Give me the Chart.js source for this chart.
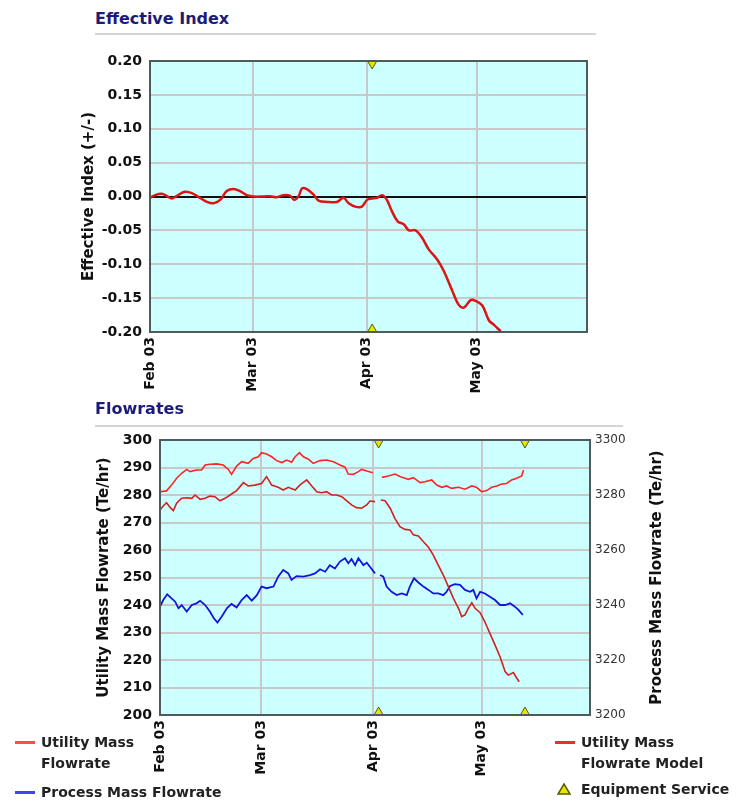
<!DOCTYPE html>
<html>
<head>
<meta charset="utf-8">
<title>Effective Index / Flowrates</title>
<script src="https://cdn.jsdelivr.net/npm/chart.js@4.4.0/dist/chart.umd.min.js"></script>
<style>
  body { margin: 0; background: #fff; font-family: "DejaVu Sans", Verdana, sans-serif; }
  #page { position: relative; width: 739px; height: 802px; overflow: hidden; }
  canvas { position: absolute; left: 0; }
  .title { position: absolute; left: 95px; font-size: 16px; font-weight: bold; color: #1c1c78; line-height: 20px; }
  .rule { position: absolute; left: 95px; height: 2px; background: #d4d4d4; }
  .leg { position: absolute; display: flex; align-items: flex-start; font-size: 14px; font-weight: bold; color: #222; line-height: 21px; }
  .sw { display: inline-block; width: 20px; height: 3px; margin-top: 9px; margin-right: 6px; }
  .tri { width: 14px; margin-right: 10px; margin-top: 4px; }
</style>
</head>
<body>
<div id="page">
  <div class="title" style="top:9px">Effective Index</div>
  <div class="rule" style="top:33px;width:501px"></div>
  <canvas id="effChart" width="739" height="360" style="top:40px"></canvas>

  <div class="title" style="top:399px">Flowrates</div>
  <div class="rule" style="top:425px;width:528px"></div>
  <canvas id="flowChart" width="739" height="402" style="top:400px"></canvas>

  <div class="leg" style="left:15px;top:732px"><span class="sw" style="background:#ff4d4d"></span><span>Utility Mass<br>Flowrate</span></div>
  <div class="leg" style="left:15px;top:782px"><span class="sw" style="background:#4444ee"></span><span>Process Mass Flowrate</span></div>
  <div class="leg" style="left:555px;top:732px"><span class="sw" style="background:#dd3333"></span><span>Utility Mass<br>Flowrate Model</span></div>
  <div class="leg" style="left:557px;top:779px">
    <svg class="tri" width="14" height="12" viewBox="0 0 14 12"><polygon points="7,1 13,11 1,11" fill="#e6e600" stroke="#5a5a00" stroke-width="1.5"/></svg>
    <span>Equipment Service</span>
  </div>
</div>

<script>
// x values are days counted from 1 Feb 2003
const monthDays = [0, 28, 59, 89];
const monthLabels = ["Feb 03", "Mar 03", "Apr 03", "May 03"];
const serviceDays = [60.5, 101];

// Effective index
const effDays = [0, 1.4, 3.2, 4.5, 5.9, 7.3, 9.5, 11.4, 13.6, 15.5, 17.3, 19.1, 20.9, 22.7, 24.5, 26.4, 28.2, 30.9, 32.7, 34.5,
  36.4, 38.2, 39.3, 40.5, 41.4, 42.7, 44.5, 45.9, 48.2, 50.9, 52.7, 54.1, 55.9, 57.7, 59.1, 60.5, 61.8, 63.2, 64.5, 65.9,
  67.5, 69.1, 70.5, 72.3, 74.1, 75.9, 78.2, 80, 82.3, 84.1, 85.5, 87.3, 88.6, 90.5, 92.3, 93.6, 95.5];
const effIndex = [-0.002, 0.002, 0.004, 0.001, -0.003, 0.001, 0.007, 0.005, -0.002, -0.008, -0.010, -0.005, 0.008, 0.011, 0.008, 0.002, 0, 0, 0.0005, -0.001,
  0.002, 0.001, -0.005, 0.001, 0.012, 0.011, 0.003, -0.006, -0.008, -0.008, -0.002, -0.010, -0.015, -0.015, -0.005, -0.003, -0.002, 0.002, -0.005, -0.022,
  -0.037, -0.041, -0.050, -0.050, -0.061, -0.078, -0.093, -0.110, -0.139, -0.160, -0.164, -0.153, -0.154, -0.161, -0.183, -0.189, -0.199];

// Utility mass flowrate (Te/hr), null = no reading
const utilityDays = [0, 1.8, 3.2, 4.6, 6.0, 7.4, 8.3, 10.1, 11.5, 12.5, 13.8, 15.7, 17.5, 18.9, 19.8, 21.2, 22.6, 24.4, 25.8, 27.2,
  28.1, 29.5, 30.9, 32.3, 33.7, 35.1, 36.4, 37.4, 38.6, 39.7, 41.1, 42.4, 44.3, 46.1, 48.0, 49.8, 51.2, 52.1, 53.5, 54.9,
  55.8, 57.2, 58.9, 60, 61.4, 63.2, 65.0, 66.4, 67.8, 68.7, 70.1, 72.0, 73.3, 75.2, 76.6, 78.0, 79.3, 80.7, 82.6, 84.4,
  86.3, 87.6, 89.0, 90.4, 91.8, 93.2, 94.6, 95.9, 97.3, 98.7, 100.1, 100.6];
const utilityFlow = [281.2, 281.5, 283.6, 286.1, 287.9, 289.3, 288.5, 289.1, 289.1, 290.9, 291.2, 291.3, 290.9, 289.3, 287.5, 290.5, 292.1, 291.5, 293.3, 293.9,
  295.4, 294.9, 293.9, 292.5, 291.8, 292.7, 291.9, 293.9, 295.4, 293.9, 293.0, 291.5, 292.5, 292.7, 292.1, 290.9, 290.1, 287.6, 287.5, 288.5,
  289.3, 288.7, 288.1, null, 286.4, 286.9, 287.6, 286.7, 286.1, 285.7, 286.3, 284.5, 284.8, 285.5, 283.6, 282.8, 283.3, 282.4, 282.8, 282.1,
  283.3, 282.8, 281.2, 281.6, 282.8, 283.3, 284.0, 284.2, 285.5, 286.1, 286.9, 289.1];

// Utility mass flowrate model (Te/hr)
const modelDays = [0, 0.9, 1.8, 2.8, 3.7, 4.6, 6.0, 7.4, 8.8, 9.7, 11.1, 12.5, 13.8, 15.2, 16.6, 18.0, 19.4, 21.2, 23.1, 24.4,
  26.3, 28.1, 29.5, 30.9, 32.7, 34.1, 35.5, 37.4, 38.7, 40.6, 42.0, 43.4, 44.7, 46.1, 47.5, 48.9, 50.3, 51.7, 53.0, 54.4,
  55.8, 57.2, 58.1, 59.5, 60.3, 61.1, 62.3, 63.7, 65.0, 66.4, 67.8, 69.2, 70.1, 71.5, 72.9, 74.3, 75.6, 77.0, 78.4, 79.8,
  81.2, 82.6, 83.5, 84.4, 85.3, 86.3, 87.2, 88.6, 89.9, 91.3, 92.7, 94.1, 95.5, 96.4, 97.8, 98.5, 99.4];
const modelFlow = [274.5, 276, 277.2, 275.5, 274.3, 277.0, 278.8, 279.0, 278.8, 280.0, 278.4, 278.8, 279.6, 279.4, 277.9, 278.8, 280.0, 281.6, 284.5, 283.3,
  283.6, 284.2, 286.7, 283.6, 282.8, 281.8, 282.8, 281.8, 283.6, 285.5, 283.3, 281.2, 280.8, 281.2, 280, 280, 279.4, 277.9, 276.4, 275.4,
  275.2, 276.4, 277.8, 277.6, null, 278.2, 277.9, 275.2, 271.5, 268.5, 267.5, 267.3, 265.5, 265.1, 263.0, 261.0, 258.2, 254.5, 250.9, 246.7,
  242.4, 238.8, 235.8, 236.4, 238.8, 240.8, 238.8, 237.2, 233.9, 229.7, 225.5, 221.2, 215.8, 214.5, 215.4, 213.9, 212.1];

// Process mass flowrate (Te/hr), right axis
const processDays = [0, 0.9, 2.0, 3.2, 4.2, 5.1, 6.0, 7.4, 8.8, 10.1, 11.1, 12.5, 13.8, 14.9, 15.9, 17.1, 18.5, 19.8, 21.2, 22.6,
  24.0, 25.4, 26.8, 28.1, 29.5, 31.4, 32.7, 34.1, 35.5, 36.4, 37.8, 39.7, 41.5, 42.9, 44.3, 45.7, 47.0, 48.4, 49.8, 51.2,
  52.1, 53.0, 54.0, 54.9, 56.3, 57.2, 58.1, 59.5, 60.2, 60.9, 61.8, 62.7, 64.1, 65.5, 66.9, 68.3, 69.2, 70.3, 71.5,
  72.9, 74.3, 75.6, 77.0, 78.4, 79.3, 80.3, 81.6, 83.0, 84.4, 85.8, 86.7, 87.6, 88.6, 89.9, 91.3, 92.7, 94.1, 95.5, 96.9,
  98.2, 99.2, 100.4];
const processFlow = [3239.4, 3241.8, 3243.9, 3242.4, 3241.2, 3238.8, 3240, 3237.6, 3240, 3240.6, 3241.5, 3240, 3237.6, 3235.2, 3233.6, 3235.8, 3238.8, 3240.4, 3239.1, 3241.8,
  3243.6, 3241.6, 3243.6, 3246.7, 3246.1, 3246.7, 3250.3, 3252.7, 3251.5, 3249.1, 3250.5, 3250.3, 3250.9, 3251.5, 3253.0, 3252.1, 3254.5, 3253.3, 3255.8, 3257,
  3255.2, 3256.7, 3254.5, 3257, 3254.5, 3255.4, 3253.9, 3251.5, null, 3250.9, 3250.3, 3246.7, 3244.8, 3243.6, 3244.2, 3243.6, 3246.9, 3249.7, 3248.2,
  3246.7, 3245.5, 3244.2, 3244.2, 3243.6, 3244.8, 3246.9, 3247.6, 3247.3, 3245.5, 3244.8, 3245.5, 3242.4, 3244.8, 3244.2, 3243, 3241.8, 3240, 3240, 3240.6,
  3239.4, 3238.2, 3236.4];

Chart.defaults.font.family = '"DejaVu Sans", Verdana, sans-serif';
Chart.defaults.color = "#111";

const toPoints = (xs, ys) => xs.map((x, i) => ({ x: x, y: ys[i] }));

// cyan plot background and dark frame
const plotFrame = {
  id: "plotFrame",
  beforeDraw(chart) {
    const { ctx, chartArea: a } = chart;
    ctx.save();
    ctx.fillStyle = "#ccffff";
    ctx.fillRect(a.left, a.top, a.right - a.left, a.bottom - a.top);
    ctx.restore();
  },
  afterDatasetsDraw(chart) {
    const { ctx, chartArea: a } = chart;
    ctx.save();
    ctx.strokeStyle = "#4d5b5b";
    ctx.lineWidth = 2;
    ctx.strokeRect(a.left, a.top, a.right - a.left, a.bottom - a.top);
    ctx.restore();
  },
};

const dateAxis = (height) => ({
  type: "linear",
  min: 0,
  max: 119,
  afterBuildTicks: (scale) => {
    scale.ticks = monthDays.map((v) => ({ value: v }));
  },
  afterFit: (scale) => {
    scale.height = height;
  },
  ticks: {
    autoSkip: false,
    minRotation: 90,
    maxRotation: 90,
    padding: 5,
    font: { size: 14, weight: "bold" },
    callback: (v) => monthLabels[monthDays.indexOf(v)],
  },
  grid: { color: "#c8c8c8", lineWidth: 2, drawTicks: false },
  border: { display: false },
});

const markerSet = (days, yVal, rotation, axis) => ({
  data: days.map((d) => ({ x: d, y: yVal })),
  yAxisID: axis,
  showLine: false,
  pointStyle: "triangle",
  pointRadius: 8,
  pointRotation: rotation,
  pointBackgroundColor: "#e6e600",
  pointBorderColor: "#5a5a00",
  pointBorderWidth: 1,
  clip: 0,
});

// Effective index chart
const effService = serviceDays.filter((d) => d <= effDays[effDays.length - 1]);
new Chart(document.getElementById("effChart"), {
  type: "line",
  data: {
    datasets: [
      markerSet(effService, 0.2, 180, "y"),
      markerSet(effService, -0.2, 0, "y"),
      {
        data: toPoints(effDays, effIndex),
        borderColor: "#dd1414",
        borderWidth: 2.5,
        pointRadius: 0,
        tension: 0.35,
        fill: false,
      },
    ],
  },
  options: {
    responsive: false,
    animation: false,
    layout: { padding: { left: 76, right: 152, top: 21, bottom: 0 } },
    plugins: { legend: { display: false }, tooltip: { enabled: false } },
    scales: {
      x: dateAxis(68),
      y: {
        min: -0.2,
        max: 0.2,
        afterFit: (scale) => {
          scale.width = 74;
        },
        ticks: {
          stepSize: 0.05,
          padding: 8,
          font: { size: 14, weight: "bold" },
          callback: (v) => v.toFixed(2),
        },
        grid: {
          drawTicks: false,
          lineWidth: 2,
          color: (c) => (Math.abs(c.tick.value) < 1e-9 ? "#111" : "#c8c8c8"),
        },
        border: { display: false },
        title: {
          display: true,
          text: "Effective Index (+/-)",
          font: { size: 15, weight: "bold" },
          color: "#111",
        },
      },
    },
  },
  plugins: [plotFrame],
});

// right hand axis title reads bottom to top like the left one
const rightTitle = {
  id: "rightTitle",
  afterDraw(chart) {
    const { ctx, chartArea: a } = chart;
    ctx.save();
    ctx.translate(657, (a.top + a.bottom) / 2);
    ctx.rotate(-Math.PI / 2);
    ctx.font = 'bold 15px "DejaVu Sans", Verdana, sans-serif';
    ctx.fillStyle = "#111";
    ctx.textAlign = "center";
    ctx.textBaseline = "middle";
    ctx.fillText("Process Mass Flowrate (Te/hr)", 0, 0);
    ctx.restore();
  },
};

// Flowrates chart
new Chart(document.getElementById("flowChart"), {
  type: "line",
  data: {
    datasets: [
      markerSet(serviceDays, 300, 180, "y"),
      markerSet(serviceDays, 200, 0, "y"),
      {
        label: "Utility Mass Flowrate",
        data: toPoints(utilityDays, utilityFlow),
        yAxisID: "y",
        borderColor: "#ff2424",
        borderWidth: 1.6,
        pointRadius: 0,
        tension: 0,
        spanGaps: false,
      },
      {
        label: "Utility Mass Flowrate Model",
        data: toPoints(modelDays, modelFlow),
        yAxisID: "y",
        borderColor: "#d42020",
        borderWidth: 1.6,
        pointRadius: 0,
        tension: 0,
        spanGaps: false,
      },
      {
        label: "Process Mass Flowrate",
        data: toPoints(processDays, processFlow),
        yAxisID: "y2",
        borderColor: "#1414dd",
        borderWidth: 1.8,
        pointRadius: 0,
        tension: 0,
        spanGaps: false,
      },
    ],
  },
  options: {
    responsive: false,
    animation: false,
    layout: { padding: { left: 91, right: 0, top: 40, bottom: 0 } },
    plugins: { legend: { display: false }, tooltip: { enabled: false } },
    scales: {
      x: dateAxis(87),
      y: {
        position: "left",
        min: 200,
        max: 300,
        afterFit: (scale) => {
          scale.width = 69;
        },
        ticks: { stepSize: 10, padding: 8, font: { size: 14, weight: "bold" } },
        grid: { drawTicks: false, lineWidth: 2, color: "#c8c8c8" },
        border: { display: false },
        title: {
          display: true,
          text: "Utility Mass Flowrate (Te/hr)",
          font: { size: 15, weight: "bold" },
          color: "#111",
        },
      },
      y2: {
        position: "right",
        min: 3200,
        max: 3300,
        afterFit: (scale) => {
          scale.width = 149;
        },
        ticks: {
          stepSize: 20,
          padding: 5,
          color: "#333",
          font: { size: 12 },
          callback: (v) => String(v),
        },
        grid: { drawOnChartArea: false, drawTicks: false },
        border: { display: false },
      },
    },
  },
  plugins: [plotFrame, rightTitle],
});
</script>
</body>
</html>
